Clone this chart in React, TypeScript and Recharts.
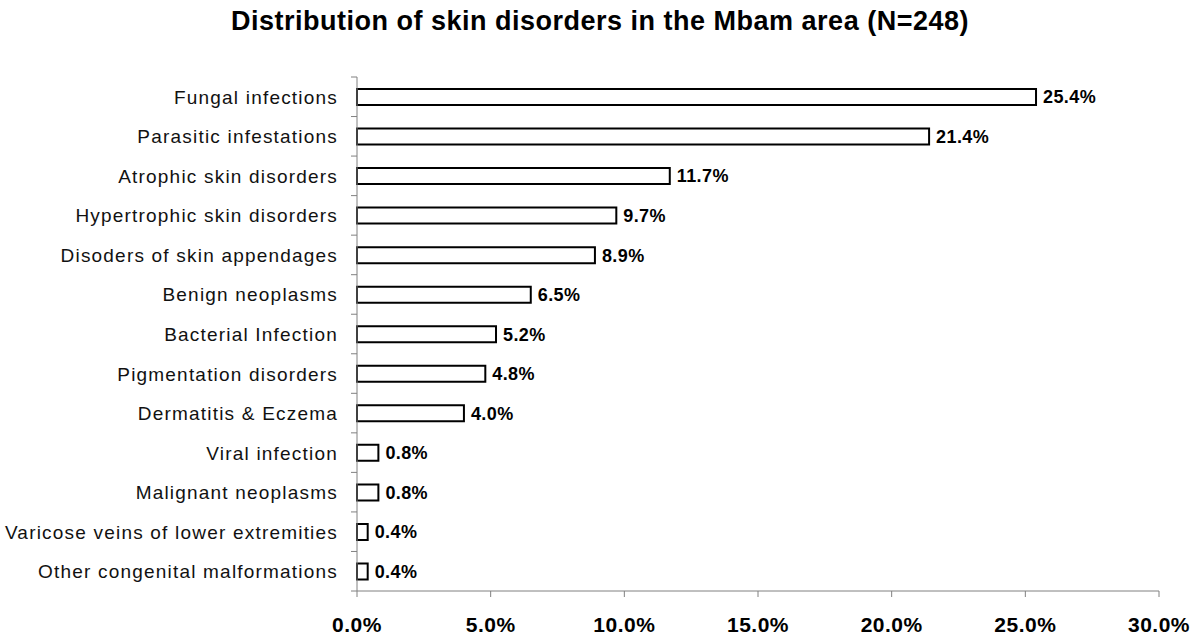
import { BarChart, Bar, XAxis, YAxis, LabelList } from "recharts"

const categories = [
  "Fungal infections",
  "Parasitic infestations",
  "Atrophic skin disorders",
  "Hypertrophic skin disorders",
  "Disoders of skin appendages",
  "Benign neoplasms",
  "Bacterial Infection",
  "Pigmentation disorders",
  "Dermatitis & Eczema",
  "Viral infection",
  "Malignant neoplasms",
  "Varicose veins of lower extremities",
  "Other congenital malformations",
]
const percents = [25.4, 21.4, 11.7, 9.7, 8.9, 6.5, 5.2, 4.8, 4.0, 0.8, 0.8, 0.4, 0.4]
const xTicks = [0, 5, 10, 15, 20, 25, 30]

const W = 1200
const H = 642
const TOP = 77
const AXIS_Y = 591
const band = (AXIS_Y - TOP) / categories.length

const data = categories.map((name, i) => ({ name, value: percents[i] }))

const FONT = "Arial, 'Liberation Sans', sans-serif"

function CategoryTick(props: any) {
  const { x, y, payload, index } = props
  const ax = x + 8
  const last = index === categories.length - 1
  return (
    <g>
      <line x1={ax - 6} x2={ax} y1={y - band / 2} y2={y - band / 2} stroke="#808080" />
      {last && <line x1={ax - 6} x2={ax} y1={y + band / 2} y2={y + band / 2} stroke="#808080" />}
      <text
        x={x - 11}
        y={y}
        dy={7}
        textAnchor="end"
        fontSize={19}
        letterSpacing={1.2}
        fill="#111"
        fontFamily={FONT}
      >
        {payload.value}
      </text>
    </g>
  )
}

function ValueTick(props: any) {
  const { x, y, payload } = props
  return (
    <text
      x={x}
      y={y}
      dy={33}
      textAnchor="middle"
      fontSize={21}
      letterSpacing={0.5}
      fontWeight="bold"
      fill="#000"
      fontFamily={FONT}
    >
      {payload.value.toFixed(1) + "%"}
    </text>
  )
}

export default function App() {
  return (
    <div style={{ position: "absolute", left: 0, top: 0, width: W, height: H, background: "#fff" }}>
      <div
        style={{
          position: "absolute",
          top: 6,
          width: W,
          textAlign: "center",
          fontFamily: FONT,
          fontWeight: "bold",
          fontSize: 27,
          letterSpacing: 0.5,
          color: "#000",
        }}
      >
        Distribution of skin disorders in the Mbam area (N=248)
      </div>
      <BarChart
        width={W}
        height={H}
        data={data}
        layout="vertical"
        margin={{ top: TOP, right: 41, bottom: H - AXIS_Y - 45, left: 0 }}
        barCategoryGap={0}
      >
        <XAxis
          type="number"
          domain={[0, 30]}
          ticks={xTicks}
          height={45}
          stroke="#808080"
          tickSize={6}
          tick={<ValueTick />}
          interval={0}
        />
        <YAxis
          type="category"
          dataKey="name"
          width={357}
          stroke="#808080"
          tickLine={false}
          tick={<CategoryTick />}
          interval={0}
        />
        <Bar dataKey="value" fill="#fff" stroke="#000" strokeWidth={2} barSize={16} isAnimationActive={false}>
          <LabelList
            dataKey="value"
            position="right"
            offset={7}
            formatter={(v: any) => Number(v).toFixed(1) + "%"}
            style={{ fontSize: 18, letterSpacing: 0.4, fontWeight: "bold", fill: "#000", fontFamily: FONT }}
          />
        </Bar>
      </BarChart>
    </div>
  )
}
